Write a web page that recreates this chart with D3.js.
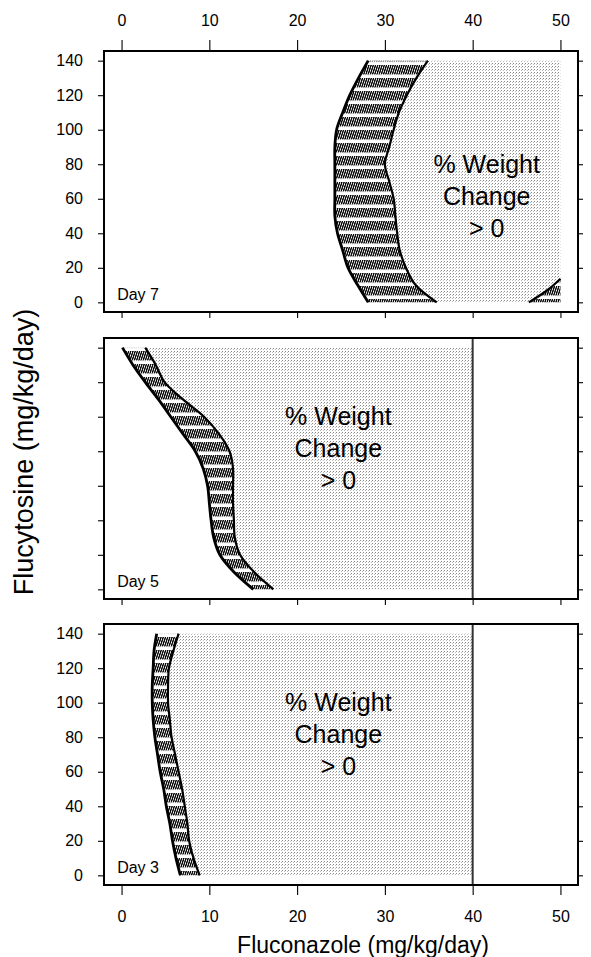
<!DOCTYPE html>
<html>
<head>
<meta charset="utf-8">
<script src="https://cdn.jsdelivr.net/npm/d3@7"></script>
<style>
  body { margin: 0; background: #fff; }
  svg { display: block; font-family: "Liberation Sans", Arial, Helvetica, sans-serif; }
</style>
</head>
<body>
<div id="chart"></div>
<script>
/* Data */
const flucytosineLevels = [140, 130, 120, 110, 100, 90, 80, 70, 60, 50, 40, 30, 20, 10, 0]

// fluconazole at the inner (lo) and outer (hi) edge of the hatched band, per flucytosine level
const day7Lower = [28.1, 27.0, 26.0, 25.2, 24.5, 24.3, 24.3, 24.3, 24.3, 24.3, 24.6, 25.2, 25.8, 26.9, 28.1]
const day7Upper = [34.9, 33.6, 32.5, 31.6, 31.0, 30.5, 30.0, 30.5, 31.0, 31.2, 31.4, 31.7, 32.4, 33.5, 35.9]
const day5Lower = [0.1, 1.3, 2.7, 4.2, 5.6, 7.0, 8.4, 9.3, 9.8, 10.0, 10.2, 10.5, 11.2, 12.8, 15.0]
const day5Upper = [2.7, 3.9, 4.9, 7.0, 9.4, 11.1, 12.3, 12.7, 12.7, 12.7, 12.8, 12.9, 13.5, 15.1, 17.3]
const day3Lower = [4.0, 3.7, 3.6, 3.5, 3.5, 3.6, 3.8, 4.1, 4.4, 4.8, 5.1, 5.5, 5.8, 6.2, 6.7]
const day3Upper = [6.5, 5.9, 5.4, 5.3, 5.3, 5.5, 5.7, 6.1, 6.5, 6.9, 7.2, 7.5, 7.7, 8.2, 8.9]

// small hatched corner in the day 7 panel
const day7CornerFluconazole = [46.4, 48.5, 50]
const day7CornerFlucytosine = [0, 7, 13.7]

const days = [7, 5, 3]
const maxFluconazoleTested = [50, 40, 40]

const fluconazoleTicks = [0, 10, 20, 30, 40, 50]
const flucytosineTicks = [0, 20, 40, 60, 80, 100, 120, 140]
/* End data */

const width = 591
const height = 957
const plotLeft = 104
const plotRight = 578
const panelHeight = 261
const panelTops = [51, 338, 624]

const bands = [
  { lower: day7Lower, upper: day7Upper },
  { lower: day5Lower, upper: day5Upper },
  { lower: day3Lower, upper: day3Upper },
]

// where the "% Weight Change > 0" label sits, in data units
const labelFluconazole = [41.6, 24.7, 24.7]
const labelFlucytosine = [56.5, 76.7, 76.7]

const svg = d3.select("#chart").append("svg")
    .attr("width", width)
    .attr("height", height)

const defs = svg.append("defs")

const hatch = defs.append("pattern")
    .attr("id", "hatch")
    .attr("patternUnits", "userSpaceOnUse")
    .attr("patternTransform", "skewX(-18)")
    .attr("width", 2.2)
    .attr("height", 13)
hatch.append("rect")
    .attr("x", 0)
    .attr("y", 0)
    .attr("width", 1.4)
    .attr("height", 9.5)
    .attr("fill", "#000")

const stipple = defs.append("pattern")
    .attr("id", "stipple")
    .attr("patternUnits", "userSpaceOnUse")
    .attr("width", 3)
    .attr("height", 3)
stipple.append("rect")
    .attr("x", 0).attr("y", 0).attr("width", 1).attr("height", 1)
    .attr("fill", "#888")
stipple.append("rect")
    .attr("x", 2).attr("y", 1).attr("width", 1).attr("height", 1)
    .attr("fill", "#bbb")

const x = d3.scaleLinear()
    .domain([-2, 52])
    .range([plotLeft, plotRight])

const drawPanel = (i) => {
  const top = panelTops[i]
  const y = d3.scaleLinear()
      .domain([-5.6, 145.6])
      .range([top + panelHeight, top])

  const rows = flucytosineLevels.map((level, j) => ({
    level: level,
    lo: bands[i].lower[j],
    hi: bands[i].upper[j],
    edge: maxFluconazoleTested[i],
  }))

  const g = svg.append("g").attr("class", `panel day-${days[i]}`)

  // stippled region: weight change > 0
  const stippleArea = d3.area()
      .curve(d3.curveCatmullRom)
      .y(d => y(d.level))
      .x0(d => x(d.hi))
      .x1(d => x(d.edge))
  g.append("path")
      .datum(rows)
      .attr("d", stippleArea)
      .attr("fill", "url(#stipple)")

  // hatched transition band
  const bandArea = d3.area()
      .curve(d3.curveCatmullRom)
      .y(d => y(d.level))
      .x0(d => x(d.lo))
      .x1(d => x(d.hi))
  g.append("path")
      .datum(rows)
      .attr("d", bandArea)
      .attr("fill", "#fff")
  g.append("path")
      .datum(rows)
      .attr("d", bandArea)
      .attr("fill", "url(#hatch)")

  const edgeLine = key => d3.line()
      .curve(d3.curveCatmullRom)
      .x(d => x(d[key]))
      .y(d => y(d.level))

  g.append("path")
      .datum(rows)
      .attr("d", edgeLine("lo"))
      .attr("fill", "none")
      .attr("stroke", "#000")
      .attr("stroke-width", 2.8)
  g.append("path")
      .datum(rows)
      .attr("d", edgeLine("hi"))
      .attr("fill", "none")
      .attr("stroke", "#000")
      .attr("stroke-width", 2.2)

  if (days[i] === 7) {
    const corner = day7CornerFluconazole.map((f, j) => [f, day7CornerFlucytosine[j]])
    const cornerShape = corner.concat([[50, 0]])
    const lineXY = d3.line().x(d => x(d[0])).y(d => y(d[1]))
    g.append("path")
        .attr("d", lineXY(cornerShape) + "Z")
        .attr("fill", "#fff")
    g.append("path")
        .attr("d", lineXY(cornerShape) + "Z")
        .attr("fill", "url(#hatch)")
    g.append("path")
        .attr("d", lineXY.curve(d3.curveCatmullRom)(corner))
        .attr("fill", "none")
        .attr("stroke", "#000")
        .attr("stroke-width", 2.2)
  } else {
    g.append("line")
        .attr("x1", x(maxFluconazoleTested[i]))
        .attr("x2", x(maxFluconazoleTested[i]))
        .attr("y1", top)
        .attr("y2", top + panelHeight)
        .attr("stroke", "#333")
        .attr("stroke-width", 2)
  }

  // annotation
  const label = g.append("text")
      .attr("text-anchor", "middle")
      .attr("font-size", 25)
      .attr("fill", "#000")
  ;["% Weight", "Change", "> 0"].forEach((t, k) => {
    label.append("tspan")
        .attr("x", x(labelFluconazole[i]))
        .attr("y", y(labelFlucytosine[i]) + (k - 1) * 32)
        .text(t)
  })

  g.append("text")
      .attr("x", x(-0.5))
      .attr("y", y(1.2))
      .attr("font-size", 16)
      .attr("fill", "#000")
      .text(`Day ${days[i]}`)

  // frame
  g.append("rect")
      .attr("x", plotLeft)
      .attr("y", top)
      .attr("width", plotRight - plotLeft)
      .attr("height", panelHeight)
      .attr("fill", "none")
      .attr("stroke", "#000")
      .attr("stroke-width", 2)

  const styleAxis = sel => {
    sel.select(".domain").remove()
    sel.selectAll(".tick line").attr("stroke", "#000").attr("stroke-width", 1.1)
    sel.selectAll(".tick text").attr("font-size", 16).attr("fill", "#000")
  }

  const isLast = i === panelTops.length - 1

  g.append("g")
      .attr("transform", `translate(${plotLeft},0)`)
      .call(d3.axisLeft(y)
        .tickValues(flucytosineTicks)
        .tickSize(6)
        .tickPadding(15)
        .tickFormat(days[i] === 5 ? "" : d3.format("d")))
      .call(styleAxis)
      .attr("font-family", null)

  g.append("g")
      .attr("transform", `translate(${plotRight},0)`)
      .call(d3.axisRight(y).tickValues(flucytosineTicks).tickSize(5).tickFormat(""))
      .call(styleAxis)

  g.append("g")
      .attr("transform", `translate(0,${top + panelHeight})`)
      .call(d3.axisBottom(x)
        .tickValues(fluconazoleTicks)
        .tickSize(isLast ? 10 : 6)
        .tickPadding(16)
        .tickFormat(isLast ? d3.format("d") : ""))
      .call(styleAxis)
      .attr("font-family", null)

  if (i === 0) {
    g.append("g")
        .attr("transform", `translate(0,${top})`)
        .call(d3.axisTop(x)
          .tickValues(fluconazoleTicks)
          .tickSize(11)
          .tickPadding(14))
        .call(styleAxis)
        .attr("font-family", null)
  }
}

panelTops.forEach((t, i) => drawPanel(i))

svg.append("text")
    .attr("x", 363)
    .attr("y", 953)
    .attr("text-anchor", "middle")
    .attr("font-size", 23)
    .attr("fill", "#000")
    .text("Fluconazole (mg/kg/day)")

svg.append("text")
    .attr("transform", "translate(33,452) rotate(-90)")
    .attr("text-anchor", "middle")
    .attr("font-size", 27)
    .attr("fill", "#000")
    .text("Flucytosine (mg/kg/day)")
</script>
</body>
</html>
